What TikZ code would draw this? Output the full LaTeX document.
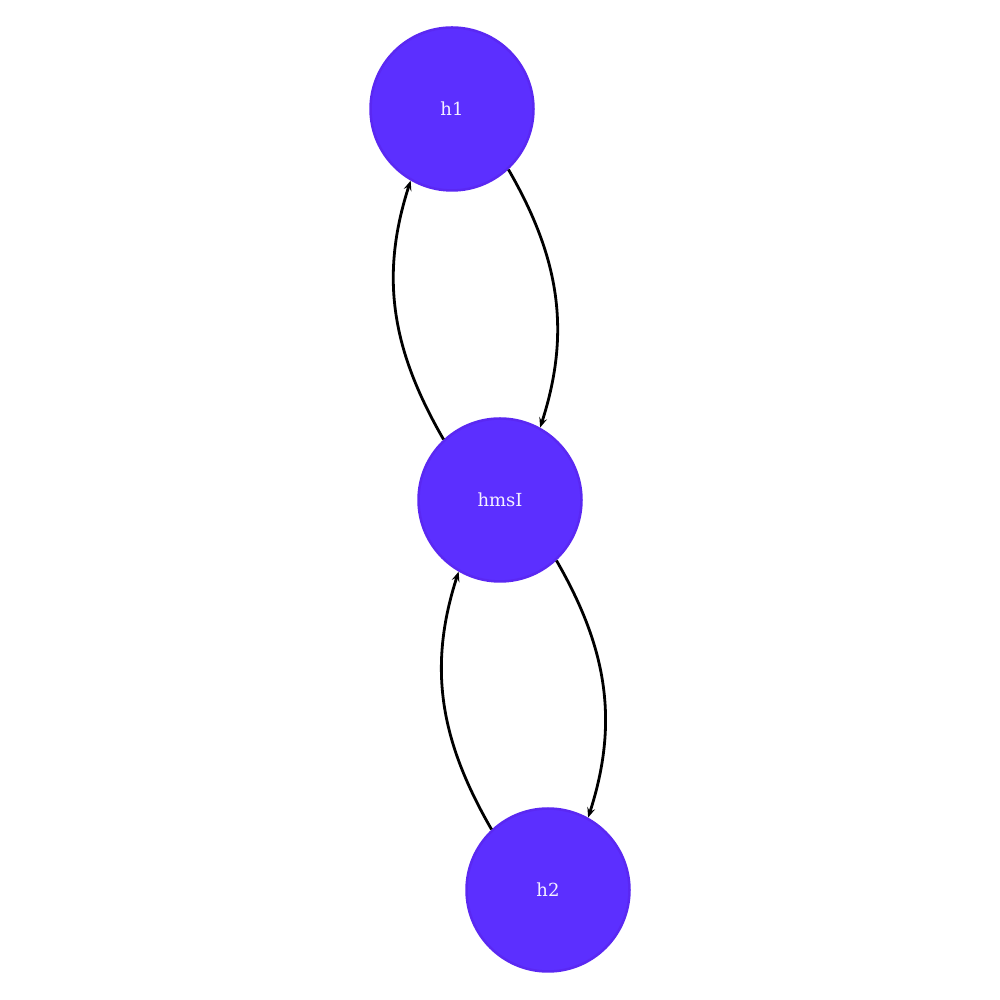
\documentclass[tikz,border=0pt]{standalone}
\usetikzlibrary{arrows.meta}
\usepackage{fontspec}
\setmainfont{DejaVu Serif}
\definecolor{nodefill}{HTML}{5C2FFF}
\definecolor{nodeedge}{HTML}{5A28F2}
\definecolor{nodetext}{HTML}{F4F0FF}
\begin{document}
\begin{tikzpicture}[x=1pt,y=1pt,
  vnode/.style={circle,fill=nodefill,draw=nodeedge,line width=2.5pt,minimum size=163pt,inner sep=0pt,text=nodetext,font=\fontsize{18}{21}\selectfont},
  link/.style={line width=2.8pt,black,-{Stealth[length=10pt,width=8pt,inset=4pt]}}]
\useasboundingbox (0,0) rectangle (1000,1000);
\node[vnode] (h1) at (452,891) {h1};
\node[vnode] (hmsI) at (500,500) {hmsI};
\node[vnode] (h2) at (548,110) {h2};
\draw[link] (h1.-47) to[out=-60,in=72,looseness=1] (hmsI.61);
\draw[link] (hmsI.133) to[out=120,in=-108,looseness=1] (h1.-120);
\draw[link] (hmsI.-47) to[out=-60,in=72,looseness=1] (h2.61);
\draw[link] (h2.133) to[out=120,in=-108,looseness=1] (hmsI.-120);
\end{tikzpicture}
\end{document}
